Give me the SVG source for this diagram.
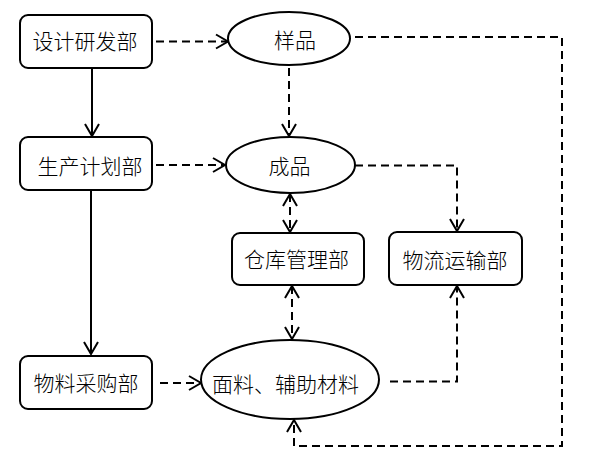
<svg xmlns="http://www.w3.org/2000/svg" width="589" height="460" viewBox="0 0 589 460">
<style>
.box{fill:#fff;stroke:#000;stroke-width:2}
.ell{fill:#fff;stroke:#000;stroke-width:2}
.t{font-family:"Noto Sans CJK SC","Liberation Sans",sans-serif;font-size:21px;font-weight:300;fill:#000;text-anchor:middle;dominant-baseline:central}
.c{fill:none;stroke:#000;stroke-width:2}
.d{stroke-dasharray:8 5}
</style>
<defs>
<marker id="ah" markerUnits="userSpaceOnUse" viewBox="-1 -9 15 18" refX="12" refY="0" markerWidth="15" markerHeight="18" orient="auto-start-reverse">
<path d="M0,-7 L12,0 L0,7" fill="none" stroke="#000" stroke-width="2"/>
</marker>
</defs>
<g id="connectors">
<path class="c" d="M92,68 V136" marker-end="url(#ah)"/>
<path class="c" d="M91,190 V354" marker-end="url(#ah)"/>
<path class="c d" d="M156,41.5 H228" marker-end="url(#ah)"/>
<path class="c d" d="M289,68 V136" marker-end="url(#ah)"/>
<path class="c d" d="M156,165 H225" marker-end="url(#ah)"/>
<path class="c d" d="M290,194 V232" marker-start="url(#ah)" marker-end="url(#ah)"/>
<path class="c d" d="M292,286 V339" marker-start="url(#ah)" marker-end="url(#ah)"/>
<path class="c d" d="M160,383 H201" marker-end="url(#ah)"/>
<path class="c d" d="M355,165.5 H457 V231" marker-end="url(#ah)"/>
<path class="c d" d="M390,381.5 H457 V286" marker-end="url(#ah)"/>
<path class="c d" d="M355,37 H562 V446 H294 V420" marker-end="url(#ah)"/>
</g>
<g id="n1"><rect class="box" x="20" y="15" width="132" height="53" rx="8"/><text class="t" x="85" y="40">设计研发部</text></g>
<g id="n2"><rect class="box" x="20" y="137" width="132" height="53" rx="8"/><text class="t" x="90" y="165">生产计划部</text></g>
<g id="n3"><rect class="box" x="20" y="356" width="132" height="53" rx="8"/><text class="t" x="86" y="382">物料采购部</text></g>
<g id="n4"><ellipse class="ell" cx="289" cy="38.5" rx="61" ry="26.5"/><text class="t" x="295" y="39">样品</text></g>
<g id="n5"><ellipse class="ell" cx="290.5" cy="165" rx="64.5" ry="28"/><text class="t" x="289.5" y="165">成品</text></g>
<g id="n6"><rect class="box" x="232" y="233" width="132" height="52" rx="8"/><text class="t" x="296.5" y="258">仓库管理部</text></g>
<g id="n7"><rect class="box" x="389" y="232" width="133" height="53" rx="8"/><text class="t" x="455" y="259">物流运输部</text></g>
<g id="n8"><ellipse class="ell" cx="290" cy="379.5" rx="89" ry="39.5"/><text class="t" x="285.5" y="383">面料、辅助材料</text></g>
</svg>
